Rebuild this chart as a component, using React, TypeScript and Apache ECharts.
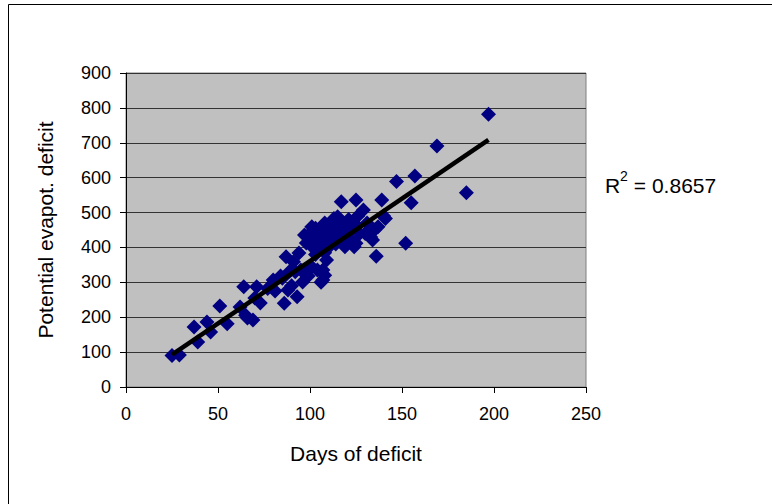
import React, { useEffect, useRef } from "react";
import * as echarts from "echarts";

// scatter data: days of deficit vs potential evapotranspiration deficit
const DAYS = [
  25, 29, 37, 39, 44, 46, 51, 55, 62, 64, 65, 66, 69, 70, 71, 73, 77, 80, 81, 84,
  85, 86, 87, 88, 89, 90, 91, 92, 93, 94, 95, 96, 97, 98, 98, 99, 100, 100, 101, 101,
  102, 103, 103, 104, 104, 105, 106, 106, 107, 107, 108, 108, 108, 109, 109, 109, 110, 110, 111, 112,
  112, 113, 114, 115, 115, 116, 117, 118, 118, 119, 120, 121, 122, 123, 124, 124, 125, 125, 126, 127,
  129, 130, 131, 133, 134, 135, 136, 137, 139, 140, 141, 147, 152, 155, 157, 169, 185, 197,
];
const PET = [
  90, 92, 172, 129, 186, 158, 232, 181, 229, 287, 206, 198, 192, 255, 287, 241, 282, 307, 275, 318,
  312, 240, 373, 278, 332, 290, 359, 330, 259, 384, 335, 301, 436, 413, 330, 318, 421, 440, 459, 344,
  398, 380, 455, 335, 420, 405, 440, 300, 307, 335, 385, 320, 470, 364, 420, 431, 400, 430, 450, 470,
  430, 483, 410, 488, 441, 460, 531, 421, 470, 402, 445, 480, 450, 420, 402, 470, 536, 412, 490, 440,
  507, 440, 470, 430, 421, 450, 375, 459, 536, 490, 483, 589, 412, 528, 605, 691, 557, 782,
];

// linear trend as drawn in the picture
const TREND_SLOPE = 3.58;
const TREND_INTERCEPT = 3;
const TREND_X = [25, 197];
const R_SQUARED = "0.8657";

const FONT = "Liberation Sans, Arial, sans-serif";

export default function App() {
  const ref = useRef<HTMLDivElement>(null);

  useEffect(() => {
    if (!ref.current) return;
    document.body.style.margin = "0";
    const chart = echarts.init(ref.current, undefined, { renderer: "svg" });

    const points = DAYS.map((d, i) => [d, PET[i]]);
    const trend = TREND_X.map((x) => [x, TREND_SLOPE * x + TREND_INTERCEPT]);

    chart.setOption({
      animation: false,
      backgroundColor: "#fff",
      textStyle: { fontFamily: FONT },
      grid: {
        left: 126,
        right: 186,
        top: 73,
        bottom: 117,
        show: true,
        backgroundColor: "#c0c0c0",
        borderColor: "#808080",
        borderWidth: 1,
      },
      xAxis: {
        type: "value",
        min: 0,
        max: 250,
        interval: 50,
        name: "Days of deficit",
        nameLocation: "middle",
        nameGap: 56,
        nameTextStyle: { fontSize: 21, color: "#000", fontFamily: FONT },
        axisLine: { show: true, onZero: false, lineStyle: { color: "#000", width: 1 } },
        axisTick: { show: true, length: 6, lineStyle: { color: "#000" } },
        axisLabel: { fontSize: 18, color: "#000", margin: 18, fontFamily: FONT },
        splitLine: { show: false },
      },
      yAxis: {
        type: "value",
        min: 0,
        max: 900,
        interval: 100,
        name: "Potential evapot. deficit",
        nameLocation: "middle",
        nameGap: 70,
        nameTextStyle: { fontSize: 21, color: "#000", fontFamily: FONT },
        axisLine: { show: true, lineStyle: { color: "#000", width: 1 } },
        axisTick: { show: true, length: 6, lineStyle: { color: "#000" } },
        axisLabel: { fontSize: 18, color: "#000", margin: 15, fontFamily: FONT },
        splitLine: { show: true, lineStyle: { color: "#333", width: 1 } },
      },
      series: [
        {
          type: "scatter",
          data: points,
          symbol: "diamond",
          symbolSize: 15,
          itemStyle: { color: "#000080", opacity: 1 },
          z: 2,
        },
        {
          type: "line",
          data: trend,
          showSymbol: false,
          lineStyle: { color: "#000", width: 4.5 },
          z: 3,
        },
      ],
      graphic: [
        {
          type: "polyline",
          shape: { points: [[8.5, 504], [8.5, 4.5], [772, 4.5]] },
          style: { stroke: "#000", lineWidth: 1, fill: "none" },
        },
        {
          type: "text",
          x: 605,
          y: 185,
          style: { text: "R", font: `21px ${FONT}`, fill: "#000", verticalAlign: "middle" },
        },
        {
          type: "text",
          x: 620,
          y: 176,
          style: { text: "2", font: `14px ${FONT}`, fill: "#000", verticalAlign: "middle" },
        },
        {
          type: "text",
          x: 628,
          y: 185,
          style: { text: ` = ${R_SQUARED}`, font: `21px ${FONT}`, fill: "#000", verticalAlign: "middle" },
        },
      ],
    });

    return () => {
      chart.dispose();
    };
  }, []);

  return <div ref={ref} style={{ width: 772, height: 504 }} />;
}
